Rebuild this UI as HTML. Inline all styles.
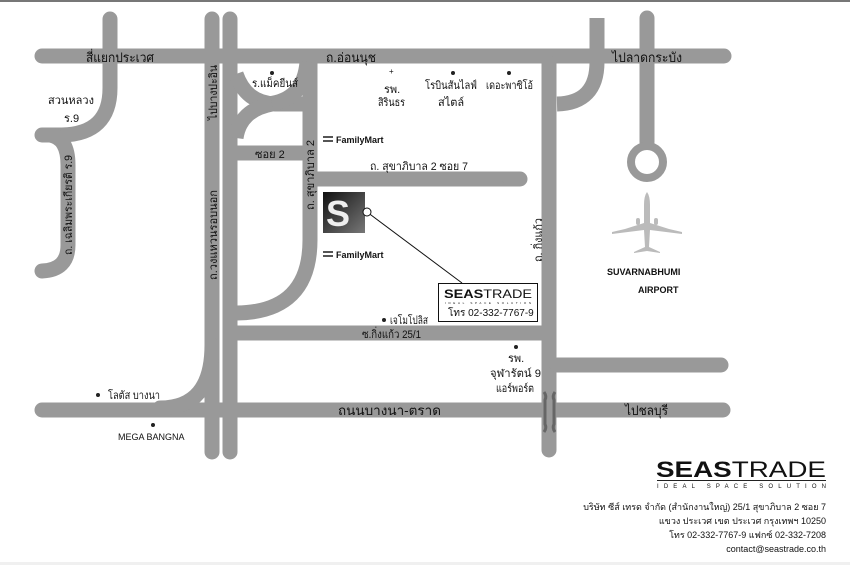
<!DOCTYPE html>
<html><head><meta charset="utf-8">
<style>
html,body{margin:0;padding:0;background:#fff;}
svg{display:block;}
text{font-family:"Liberation Sans","DejaVu Sans",sans-serif;fill:#111;}
</style></head>
<body>
<svg width="850" height="565" viewBox="0 0 850 565" xmlns="http://www.w3.org/2000/svg">
<defs>
<linearGradient id="sg" x1="0" y1="0" x2="1" y2="1"><stop offset="0" stop-color="#111"/><stop offset="1" stop-color="#777"/></linearGradient>
</defs>
<rect x="0" y="0" width="850" height="2" fill="#777"/>
<rect x="0" y="562" width="850" height="3" fill="#f0f0f0"/>
<g fill="none" stroke="#999" stroke-width="15" stroke-linecap="round">
<path d="M42,56 L724,56"/>
<path d="M42,410 L723,410"/>
<path d="M110,19 L110,88 Q110,134 62,135 L42,135"/>
<path d="M50,135 Q68,138 68,165 L68,245 Q68,270 42,271"/>
<path d="M212,19 L212,452"/>
<path d="M230,19 L230,452"/>
<path d="M212,345 Q212,408 160,408"/>
<path d="M310,56 L310,240 Q310,312 237,313" stroke-linecap="butt"/>
<path d="M236,74 Q246,103 275,104 L305,104" stroke-linecap="butt"/>
<path d="M307,62 Q304,100 268,104" stroke-linecap="butt"/>
<path d="M272,104 Q240,110 236,138" stroke-linecap="butt"/>
<path d="M237,153 L305,153" stroke-linecap="butt"/>
<path d="M316,179 L520,179" stroke-linecap="butt"/>
<path d="M510,179 L520,179"/>
<path d="M237,333 L545,333" stroke-linecap="butt"/>
<path d="M549,63 L549,450"/>
<path d="M557,365 L721,365"/>
<path d="M597,18 L597,62 Q597,103 557,104" stroke-linecap="butt"/>
<path d="M647,18 L647,142"/>
</g>
<circle cx="647" cy="162" r="16" fill="none" stroke="#999" stroke-width="8"/>
<g stroke="#666" stroke-width="3" fill="none">
<path d="M544,392 Q547,396 545,400 L545,424 Q547,428 544,432"/>
<path d="M555,392 Q552,396 554,400 L554,424 Q552,428 555,432"/>
</g>
<g fill="#bbb">
<path d="M647,192 Q650,196 650,205 L650,223 L669,229 L682,232 L682,234 L650,230 L649,247 L660,252 L660,253 L647,251 L634,253 L634,252 L645,247 L644,230 L612,234 L612,232 L625,229 L644,223 L644,205 Q644,196 647,192Z"/>
<rect x="636" y="218" width="4" height="7" rx="2"/><rect x="654" y="218" width="4" height="7" rx="2"/>
</g>
<g font-size="13">
<text x="86" y="62" textLength="68" lengthAdjust="spacingAndGlyphs">สี่แยกประเวศ</text>
<text x="326" y="62" textLength="50" lengthAdjust="spacingAndGlyphs">ถ.อ่อนนุช</text>
<text x="612" y="62" textLength="70" lengthAdjust="spacingAndGlyphs">ไปลาดกระบัง</text>
<text x="48" y="104" font-size="11">สวนหลวง</text>
<text x="64" y="122" font-size="11">ร.9</text>
<text x="252" y="87" font-size="11" textLength="46" lengthAdjust="spacingAndGlyphs">ร.แม็คยีนส์</text>
<text x="384" y="93" font-size="11">รพ.</text>
<text x="378" y="106" font-size="11" textLength="27" lengthAdjust="spacingAndGlyphs">สิรินธร</text>
<text x="425" y="89" font-size="11" textLength="52" lengthAdjust="spacingAndGlyphs">โรบินสันไลฟ์</text>
<text x="438" y="106" font-size="11">สไตล์</text>
<text x="486" y="89" font-size="11" textLength="47" lengthAdjust="spacingAndGlyphs">เดอะพาซิโอ้</text>
<text x="255" y="158" font-size="11">ซอย 2</text>
<text x="370" y="170" font-size="11" textLength="98" lengthAdjust="spacingAndGlyphs">ถ. สุขาภิบาล 2 ซอย 7</text>
<text x="336" y="143" font-size="9" font-weight="bold">FamilyMart</text>
<text x="336" y="258" font-size="9" font-weight="bold">FamilyMart</text>
<text x="390" y="324" font-size="11" textLength="38" lengthAdjust="spacingAndGlyphs">เจโมโปลิส</text>
<text x="362" y="338" font-size="11" textLength="59" lengthAdjust="spacingAndGlyphs">ซ.กิ่งแก้ว 25/1</text>
<text x="338" y="415" textLength="103" lengthAdjust="spacingAndGlyphs">ถนนบางนา-ตราด</text>
<text x="625" y="415" textLength="43" lengthAdjust="spacingAndGlyphs">ไปชลบุรี</text>
<text x="108" y="399" font-size="11" textLength="52" lengthAdjust="spacingAndGlyphs">โลตัส บางนา</text>
<text x="118" y="440" font-size="9">MEGA BANGNA</text>
<text x="508" y="362" font-size="11">รพ.</text>
<text x="490" y="377" font-size="11" textLength="51" lengthAdjust="spacingAndGlyphs">จุฬารัตน์ 9</text>
<text x="496" y="392" font-size="11" textLength="38" lengthAdjust="spacingAndGlyphs">แอร์พอร์ต</text>
<text x="607" y="275" font-size="9" font-weight="bold">SUVARNABHUMI</text>
<text x="638" y="293" font-size="9" font-weight="bold">AIRPORT</text>
</g>
<g font-size="11">
<text transform="translate(217,120) rotate(-90)" textLength="55" lengthAdjust="spacingAndGlyphs">ไปบางปะอิน</text>
<text transform="translate(217,280) rotate(-90)" textLength="90" lengthAdjust="spacingAndGlyphs">ถ.วงแหวนรอบนอก</text>
<text transform="translate(314,210) rotate(-90)" textLength="70" lengthAdjust="spacingAndGlyphs">ถ. สุขาภิบาล 2</text>
<text transform="translate(72,255) rotate(-90)" textLength="100" lengthAdjust="spacingAndGlyphs">ถ. เฉลิมพระเกียรติ ร.9</text>
<text transform="translate(542,262) rotate(-90)" textLength="44" lengthAdjust="spacingAndGlyphs">ถ. กิ่งแก้ว</text>
</g>
<g fill="#222">
<circle cx="272" cy="73" r="2"/><circle cx="453" cy="73" r="2"/><circle cx="509" cy="73" r="2"/>
<circle cx="384" cy="320" r="2"/><circle cx="98" cy="395" r="2"/><circle cx="153" cy="425" r="2"/><circle cx="516" cy="347" r="2"/>
</g>
<text x="389" y="74" font-size="8">+</text>
<g fill="#555"><rect x="323" y="136" width="10" height="2"/><rect x="323" y="140" width="10" height="2"/><rect x="323" y="251" width="10" height="2"/><rect x="323" y="255" width="10" height="2"/></g>
<rect x="323" y="192" width="42" height="41" fill="url(#sg)"/>
<text x="326" y="226" font-size="36" font-weight="bold" style="fill:#eee">S</text>
<line x1="367" y1="212" x2="462" y2="283" stroke="#111" stroke-width="1"/>
<circle cx="367" cy="212" r="4" fill="#fff" stroke="#111"/>
<rect x="438.5" y="283.5" width="99" height="38" fill="#fff" stroke="#111"/>
<text x="444" y="298" font-size="12" font-weight="bold" textLength="88" lengthAdjust="spacingAndGlyphs">SEAS<tspan font-weight="normal">TRADE</tspan></text>
<text x="445" y="304" font-size="3" textLength="86">IDEAL SPACE SOLUTION</text>
<text x="448" y="316" font-size="10">โทร 02-332-7767-9</text>
<text x="656" y="477" font-size="22" font-weight="bold" textLength="170" lengthAdjust="spacingAndGlyphs">SEAS<tspan font-weight="normal">TRADE</tspan></text>
<rect x="657" y="480" width="169" height="1" fill="#222"/>
<text x="657" y="488" font-size="6" textLength="169">IDEAL SPACE SOLUTION</text>
<g font-size="9" text-anchor="end">
<text x="826" y="510">บริษัท ซีส์ เทรด จำกัด (สำนักงานใหญ่) 25/1 สุขาภิบาล 2 ซอย 7</text>
<text x="826" y="524">แขวง ประเวศ เขต ประเวศ กรุงเทพฯ 10250</text>
<text x="826" y="538">โทร 02-332-7767-9 แฟกซ์ 02-332-7208</text>
<text x="826" y="552">contact@seastrade.co.th</text>
</g>
</svg>
</body></html>
